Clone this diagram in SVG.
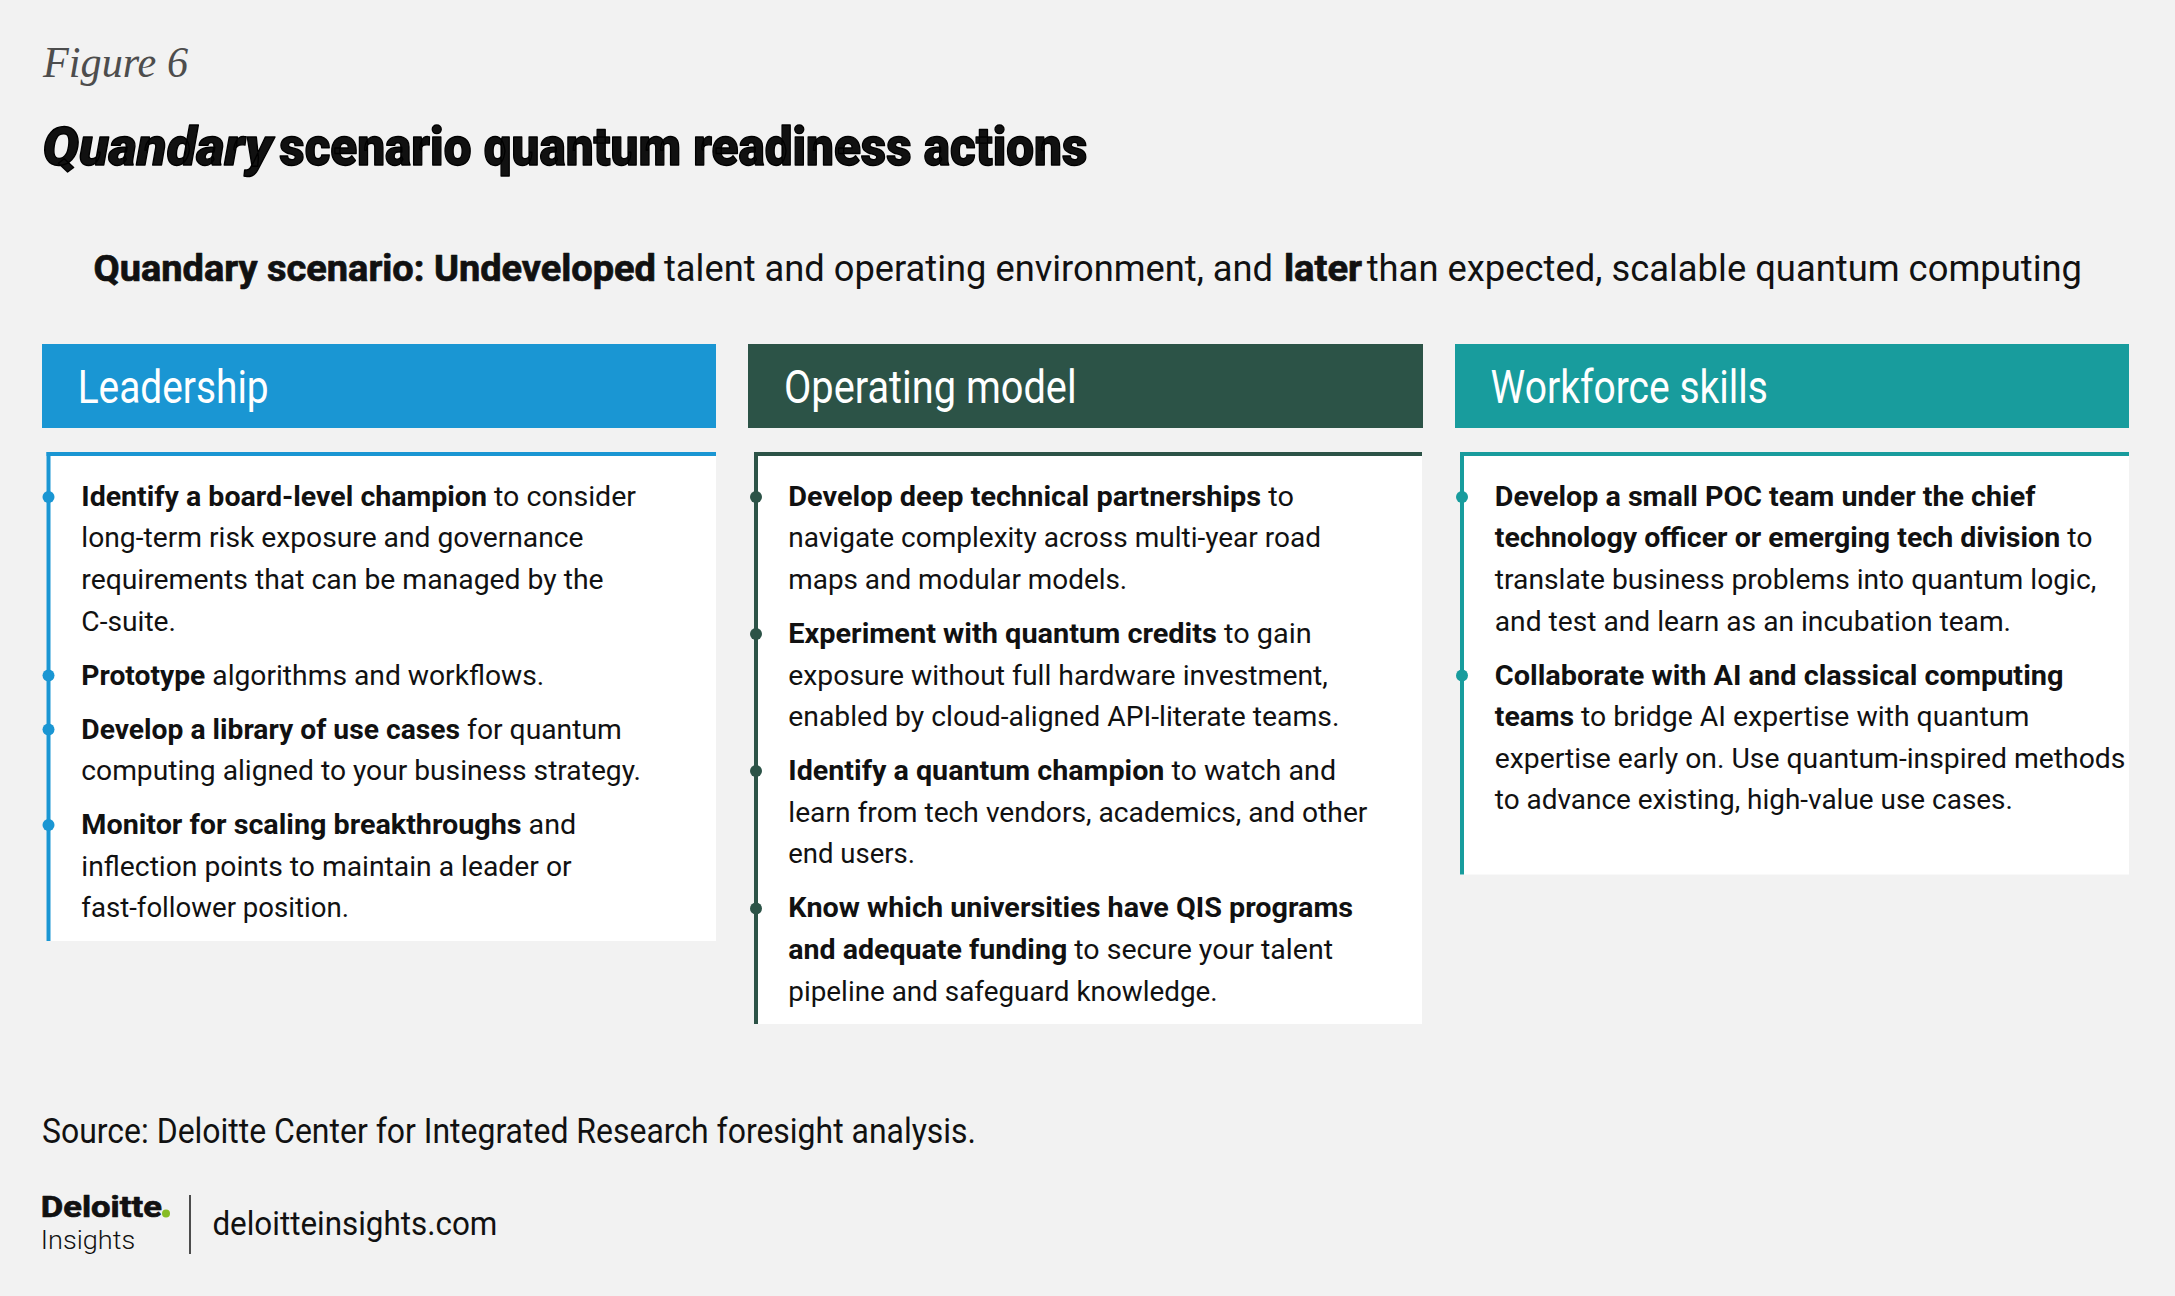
<svg xmlns="http://www.w3.org/2000/svg" width="2175" height="1296" viewBox="0 0 2175 1296">
<style>
.t{font-family:Roboto,"Liberation Sans",Arial,sans-serif;fill:#111}
.body{font-size:28px}
.bd{font-weight:700}
.hd{font-size:46px;fill:#fff}
.heavy{stroke:#000;stroke-width:1.4;stroke-linejoin:round}
.semi{stroke:#111;stroke-width:0.7;stroke-linejoin:round}
.panel{fill:#fff}
.c1{fill:#1a96d3}
.c2{fill:#2c5347}
.c3{fill:#189c9d}
</style>
<rect x="0" y="0" width="2175" height="1296" fill="#f2f2f2"/>

<g id="figure-label">
<text x="43" y="77.3" font-family="'Liberation Serif',serif" font-style="italic" font-size="44" fill="#4d4d4d" textLength="145" lengthAdjust="spacingAndGlyphs">Figure 6</text>
</g>

<g id="title">
<text class="t heavy" x="42.4" y="165" font-size="54" font-weight="900" font-style="italic" fill="#000" textLength="230" lengthAdjust="spacingAndGlyphs">Quandary</text>
<text class="t heavy" x="279.3" y="165" font-size="54" font-weight="900" fill="#000" textLength="808" lengthAdjust="spacingAndGlyphs">scenario quantum readiness actions</text>
</g>

<g id="subtitle" class="t" font-size="36">
<text class="semi" x="93.6" y="280.5" font-weight="700" textLength="562.4" lengthAdjust="spacingAndGlyphs">Quandary scenario: Undeveloped</text>
<text x="664" y="280.5" textLength="609" lengthAdjust="spacingAndGlyphs">talent and operating environment, and</text>
<text class="semi" x="1284" y="280.5" font-weight="700" textLength="78" lengthAdjust="spacingAndGlyphs">later</text>
<text x="1366.7" y="280.5" textLength="715.3" lengthAdjust="spacingAndGlyphs">than expected, scalable quantum computing</text>
</g>

<g id="connectors"/>

<g id="leadership">
<rect class="c1" x="42" y="344" width="674" height="84"/>
<text class="t hd" x="77.7" y="403" textLength="191" lengthAdjust="spacingAndGlyphs">Leadership</text>
<rect class="panel" x="46.5" y="452" width="669.5" height="489"/>
<rect class="c1" x="46.5" y="452" width="669.5" height="4"/>
<rect class="c1" x="46.5" y="452" width="4" height="489"/>
<circle class="c1" cx="48.5" cy="497" r="6"/>
<circle class="c1" cx="48.5" cy="675.5" r="6"/>
<circle class="c1" cx="48.5" cy="729.5" r="6"/>
<circle class="c1" cx="48.5" cy="825" r="6"/>
<g class="t body">
<text x="81.3" y="505.7" textLength="554.7" lengthAdjust="spacingAndGlyphs"><tspan class="bd">Identify a board-level champion</tspan> to consider</text>
<text x="81.3" y="547.3" textLength="502.2" lengthAdjust="spacingAndGlyphs">long-term risk exposure and governance</text>
<text x="81.3" y="588.9" textLength="522.3" lengthAdjust="spacingAndGlyphs">requirements that can be managed by the</text>
<text x="81.3" y="630.5" textLength="94.7" lengthAdjust="spacingAndGlyphs">C-suite.</text>
<text x="81.3" y="684.5" textLength="463" lengthAdjust="spacingAndGlyphs"><tspan class="bd">Prototype</tspan> algorithms and workflows.</text>
<text x="81.3" y="738.5" textLength="540.5" lengthAdjust="spacingAndGlyphs"><tspan class="bd">Develop a library of use cases</tspan> for quantum</text>
<text x="81.3" y="780.1" textLength="559.7" lengthAdjust="spacingAndGlyphs">computing aligned to your business strategy.</text>
<text x="81.3" y="834.1" textLength="495" lengthAdjust="spacingAndGlyphs"><tspan class="bd">Monitor for scaling breakthroughs</tspan> and</text>
<text x="81.3" y="875.7" textLength="490.3" lengthAdjust="spacingAndGlyphs">inflection points to maintain a leader or</text>
<text x="81.3" y="917.3" textLength="267.7" lengthAdjust="spacingAndGlyphs">fast-follower position.</text>
</g>
</g>

<g id="operating-model">
<rect class="c2" x="748" y="344" width="675" height="84"/>
<text class="t hd" x="784" y="403" textLength="292.6" lengthAdjust="spacingAndGlyphs">Operating model</text>
<rect class="panel" x="754" y="452" width="668" height="572"/>
<rect class="c2" x="754" y="452" width="668" height="4"/>
<rect class="c2" x="754" y="452" width="4" height="572"/>
<circle class="c2" cx="756" cy="497" r="6"/>
<circle class="c2" cx="756" cy="634" r="6"/>
<circle class="c2" cx="756" cy="771" r="6"/>
<circle class="c2" cx="756" cy="908.5" r="6"/>
<g class="t body">
<text x="788.3" y="505.7" textLength="505.7" lengthAdjust="spacingAndGlyphs"><tspan class="bd">Develop deep technical partnerships</tspan> to</text>
<text x="788.3" y="547.3" textLength="532.7" lengthAdjust="spacingAndGlyphs">navigate complexity across multi-year road</text>
<text x="788.3" y="588.9" textLength="338.9" lengthAdjust="spacingAndGlyphs">maps and modular models.</text>
<text x="788.3" y="642.9" textLength="523.5" lengthAdjust="spacingAndGlyphs"><tspan class="bd">Experiment with quantum credits</tspan> to gain</text>
<text x="788.3" y="684.5" textLength="539.6" lengthAdjust="spacingAndGlyphs">exposure without full hardware investment,</text>
<text x="788.3" y="726.1" textLength="551.1" lengthAdjust="spacingAndGlyphs">enabled by cloud-aligned API-literate teams.</text>
<text x="788.3" y="780.1" textLength="547.8" lengthAdjust="spacingAndGlyphs"><tspan class="bd">Identify a quantum champion</tspan> to watch and</text>
<text x="788.3" y="821.7" textLength="579.1" lengthAdjust="spacingAndGlyphs">learn from tech vendors, academics, and other</text>
<text x="788.3" y="863.3" textLength="126.7" lengthAdjust="spacingAndGlyphs">end users.</text>
<text x="788.3" y="917.3" textLength="564.8" lengthAdjust="spacingAndGlyphs" class="bd">Know which universities have QIS programs</text>
<text x="788.3" y="958.9" textLength="544.7" lengthAdjust="spacingAndGlyphs"><tspan class="bd">and adequate funding</tspan> to secure your talent</text>
<text x="788.3" y="1000.5" textLength="429.4" lengthAdjust="spacingAndGlyphs">pipeline and safeguard knowledge.</text>
</g>
</g>

<g id="workforce-skills">
<rect class="c3" x="1455" y="344" width="674" height="84"/>
<text class="t hd" x="1490.6" y="403" textLength="277.4" lengthAdjust="spacingAndGlyphs">Workforce skills</text>
<rect class="panel" x="1460" y="452" width="669" height="422.5"/>
<rect class="c3" x="1460" y="452" width="669" height="4"/>
<rect class="c3" x="1460" y="452" width="4" height="422.5"/>
<circle class="c3" cx="1462" cy="497" r="6"/>
<circle class="c3" cx="1462" cy="675.5" r="6"/>
<g class="t body">
<text x="1494.8" y="505.7" textLength="540.6" lengthAdjust="spacingAndGlyphs" class="bd">Develop a small POC team under the chief</text>
<text x="1494.8" y="547.3" textLength="597.8" lengthAdjust="spacingAndGlyphs"><tspan class="bd">technology officer or emerging tech division</tspan> to</text>
<text x="1494.8" y="588.9" textLength="601.5" lengthAdjust="spacingAndGlyphs">translate business problems into quantum logic,</text>
<text x="1494.8" y="630.5" textLength="516.2" lengthAdjust="spacingAndGlyphs">and test and learn as an incubation team.</text>
<text x="1494.8" y="684.5" textLength="568.7" lengthAdjust="spacingAndGlyphs" class="bd">Collaborate with AI and classical computing</text>
<text x="1494.8" y="726.1" textLength="534.5" lengthAdjust="spacingAndGlyphs"><tspan class="bd">teams</tspan> to bridge AI expertise with quantum</text>
<text x="1494.8" y="767.7" textLength="630.6" lengthAdjust="spacingAndGlyphs">expertise early on. Use quantum-inspired methods</text>
<text x="1494.8" y="809.3" textLength="518.1" lengthAdjust="spacingAndGlyphs">to advance existing, high-value use cases.</text>
</g>
</g>

<g id="source">
<text class="t" x="42" y="1142.7" font-size="35" fill="#555" textLength="934" lengthAdjust="spacingAndGlyphs">Source: Deloitte Center for Integrated Research foresight analysis.</text>
</g>

<g id="footer">
<text class="t semi" x="40.8" y="1216.5" font-size="30" font-weight="700" fill="#000" textLength="121" lengthAdjust="spacingAndGlyphs">Deloitte</text>
<circle cx="166" cy="1213.5" r="4" fill="#86bc25"/>
<text class="t" x="40.8" y="1249" font-size="26" font-weight="300" fill="#000" textLength="94.4" lengthAdjust="spacingAndGlyphs">Insights</text>
<line x1="190" y1="1195" x2="190" y2="1254" stroke="#222" stroke-width="1.6"/>
<text class="t" x="212.4" y="1235" font-size="33" fill="#111" textLength="285" lengthAdjust="spacingAndGlyphs">deloitteinsights.com</text>
</g>
</svg>
